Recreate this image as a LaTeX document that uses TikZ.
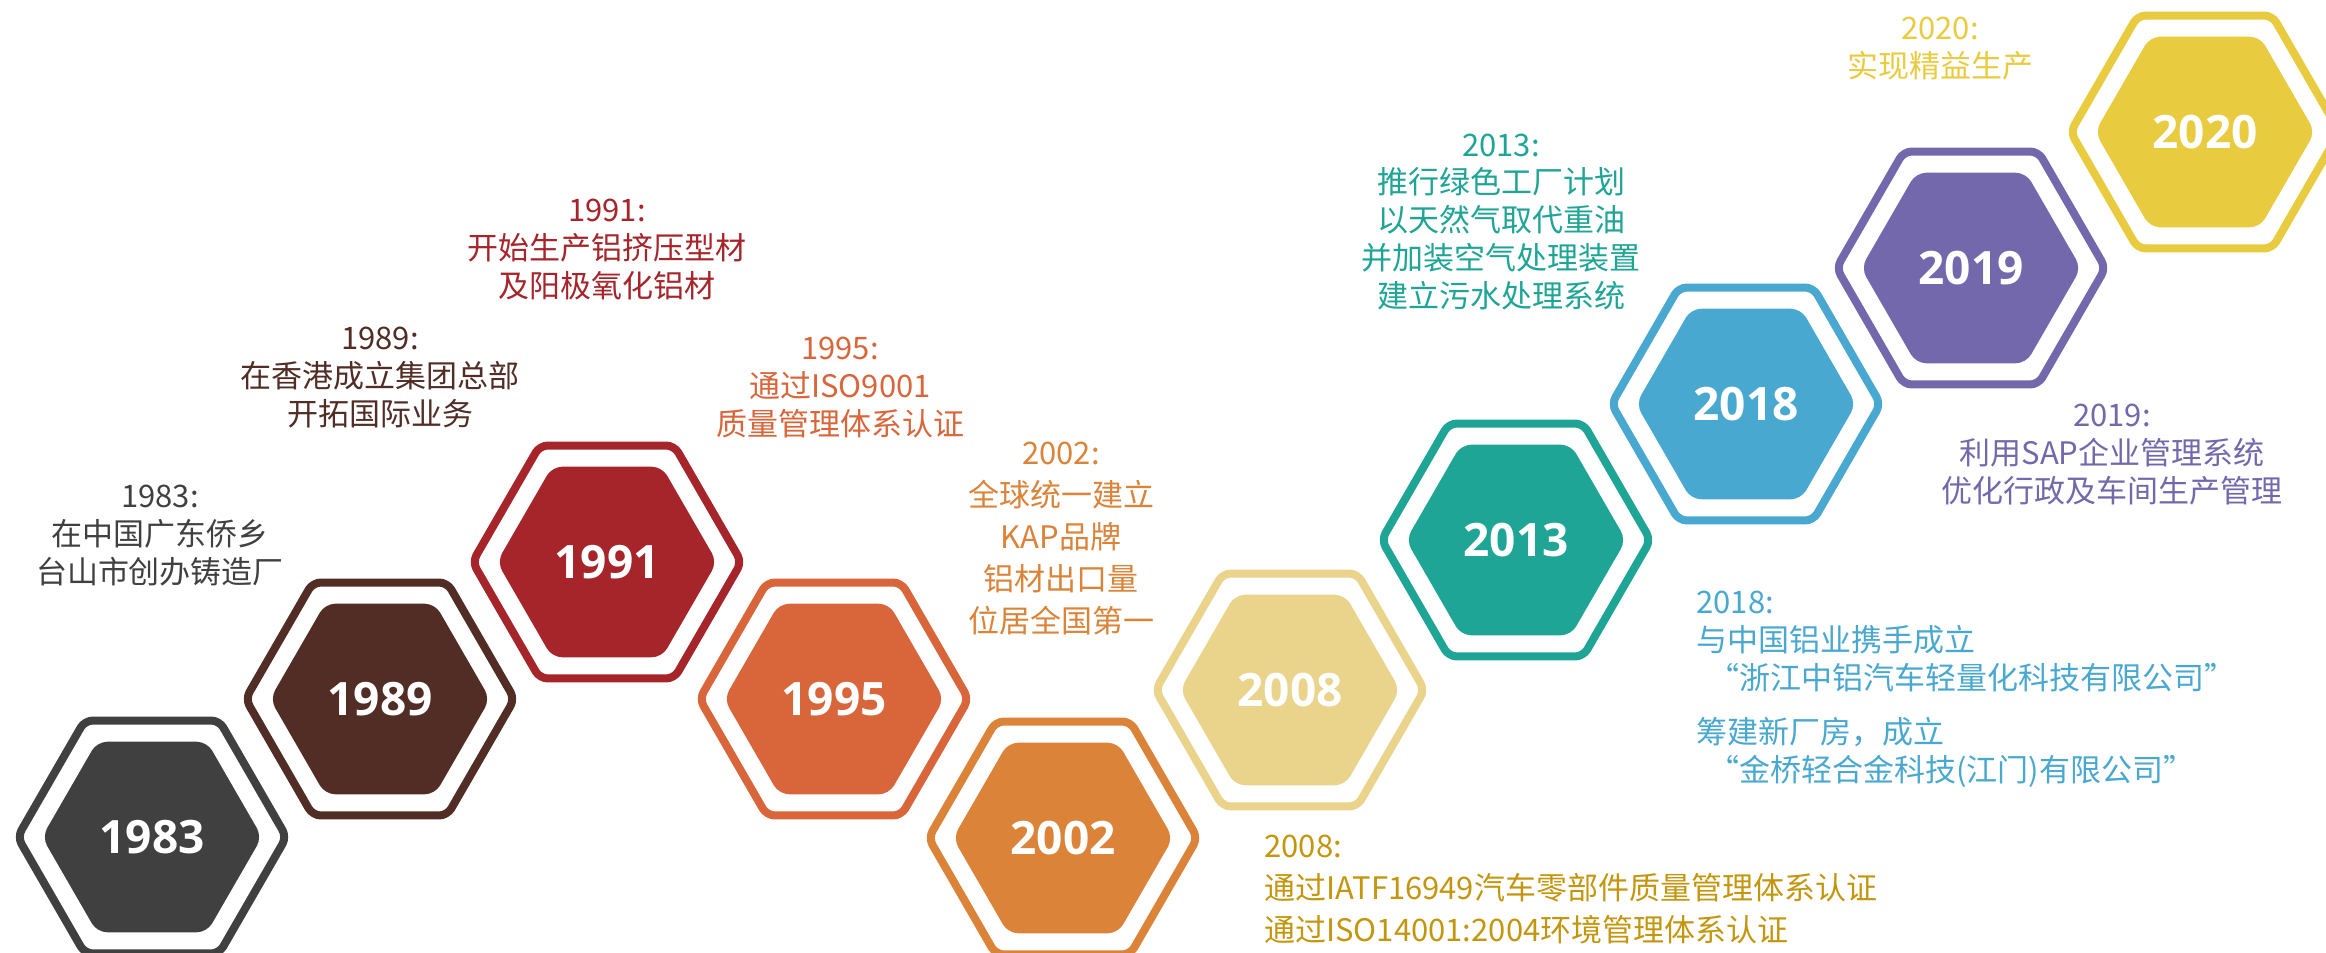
\documentclass[tikz,border=0pt]{standalone}
\usepackage{fontspec}
\usetikzlibrary{shapes.geometric,positioning}
\setmainfont{Noto Sans CJK SC}
\newfontfamily\yearfont{Open Sans}

\definecolor{c83}{HTML}{404040}
\definecolor{c89}{HTML}{512D25}
\definecolor{c91}{HTML}{A5252A}
\definecolor{c95}{HTML}{D9663B}
\definecolor{c02}{HTML}{DB8338}
\definecolor{c08}{HTML}{EAD38A}
\definecolor{t08}{HTML}{C4960E}
\definecolor{c13}{HTML}{1FA595}
\definecolor{c18}{HTML}{49A8D0}
\definecolor{c19}{HTML}{7468AC}
\definecolor{c20}{HTML}{E8CB3E}

\begin{document}
\begin{tikzpicture}[
	x = 0.5pt, y = -0.5pt, % one unit = one pixel of the sheet, y downwards
	Ring/.style={regular polygon, regular polygon sides=6, minimum size=134.5pt, inner sep=0pt, line width=4pt, rounded corners=4pt, draw=#1},  % outer frame
	Hex/.style={regular polygon, regular polygon sides=6, minimum size=110pt, inner sep=0pt, rounded corners=5pt, fill=#1, text=white, font=\yearfont\bfseries\fontsize{23}{23}\selectfont},
	Note/.style={align=center, inner sep=0pt, text=#1, font=\fontsize{15.5}{19}\selectfont},
	]

	\useasboundingbox (0,0) rectangle (2326,953);

	% Hexagons, one per year
	\node[Ring=c83] (r83) at (152,837) {};
	\node[Hex=c83]  (h83) at (r83) {1983};
	\node[Ring=c89] (r89) at (380,699) {};
	\node[Hex=c89]  (h89) at (r89) {1989};
	\node[Ring=c91] (r91) at (607,562) {};
	\node[Hex=c91]  (h91) at (r91) {1991};
	\node[Ring=c95] (r95) at (834,699) {};
	\node[Hex=c95]  (h95) at (r95) {1995};
	\node[Ring=c02] (r02) at (1063,838) {};
	\node[Hex=c02]  (h02) at (r02) {2002};
	\node[Ring=c08] (r08) at (1290,690) {};
	\node[Hex=c08]  (h08) at (r08) {2008};
	\node[Ring=c13] (r13) at (1516,540) {};
	\node[Hex=c13]  (h13) at (r13) {2013};
	\node[Ring=c18] (r18) at (1746,404) {};
	\node[Hex=c18]  (h18) at (r18) {2018};
	\node[Ring=c19] (r19) at (1971,268) {};
	\node[Hex=c19]  (h19) at (r19) {2019};
	\node[Ring=c20] (r20) at (2205,132) {};
	\node[Hex=c20]  (h20) at (r20) {2020};

	% Notes
	\node[Note=c83] (t83) at (160,536) {1983:\\在中国广东侨乡\\台山市创办铸造厂};
	\node[Note=c89] (t89) at (380,378) {1989:\\在香港成立集团总部\\开拓国际业务};
	\node[Note=c91] (t91) at (607,249) {1991:\\开始生产铝挤压型材\\及阳极氧化铝材};
	\node[Note=c95] (t95) at (840,387) {1995:\\通过ISO9001\\质量管理体系认证};
	\node[Note=c02, font=\fontsize{15.5}{21}\selectfont] (t02) at (1061,538) {2002:\\全球统一建立\\KAP品牌\\铝材出口量\\位居全国第一};
	\node[Note=t08, align=left, anchor=west, font=\fontsize{15.5}{21}\selectfont] (t08) at (1264,890) {2008:\\通过IATF16949汽车零部件质量管理体系认证\\通过ISO14001:2004环境管理体系认证};
	\node[Note=c13] (t13) at (1501,222) {2013:\\推行绿色工厂计划\\以天然气取代重油\\并加装空气处理装置\\建立污水处理系统};
	\node[Note=c18, align=left, anchor=west] (t18) at (1696,689) {2018:\\与中国铝业携手成立\\\hspace{6pt}“浙江中铝汽车轻量化科技有限公司”\\[8pt]筹建新厂房，成立\\\hspace{6pt}“金桥轻合金科技(江门)有限公司”};
	\node[Note=c19] (t19) at (2112,455) {2019:\\利用SAP企业管理系统\\优化行政及车间生产管理};
	\node[Note=c20] (t20) at (1940,49) {2020:\\实现精益生产};

\end{tikzpicture}
\end{document}
